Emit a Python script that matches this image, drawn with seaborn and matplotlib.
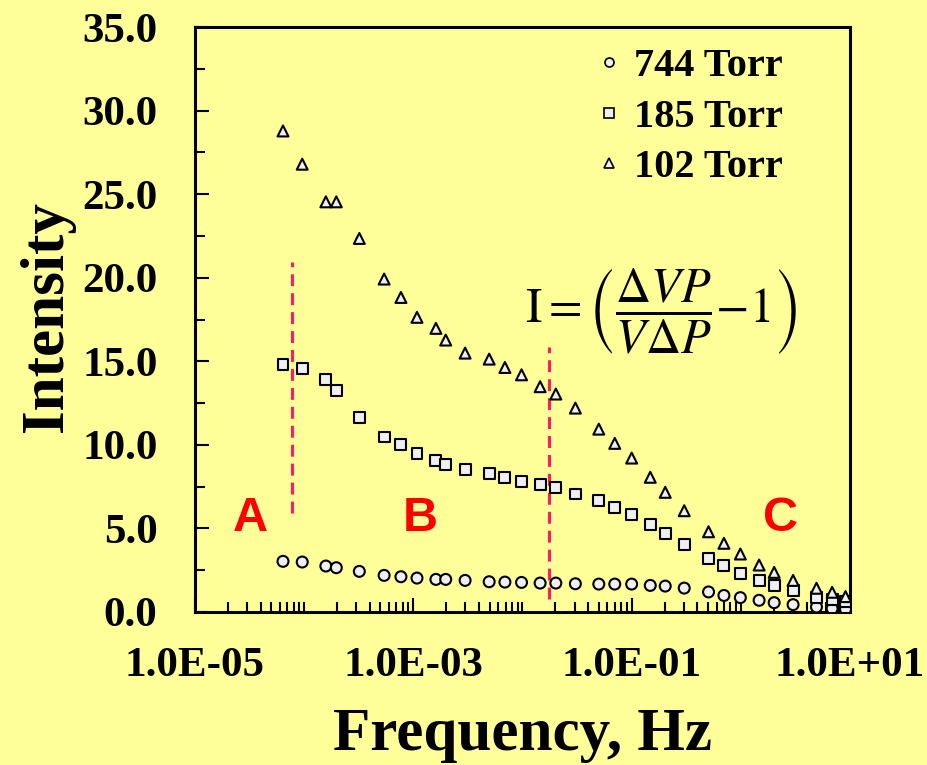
import numpy as np
import pandas as pd
import matplotlib
matplotlib.use("Agg")
import matplotlib.pyplot as plt
from matplotlib.ticker import FixedLocator, LogLocator, MultipleLocator, FuncFormatter, NullFormatter
from matplotlib.lines import Line2D
import seaborn as sns

# Sweep frequencies (Hz)
freq = [6.4e-5, 9.6e-5, 1.58e-4, 1.97e-4, 3.2e-4, 5.4e-4, 7.7e-4, 1.08e-3,
        1.61e-3, 1.98e-3, 2.98e-3, 4.95e-3, 6.9e-3, 9.8e-3, 1.45e-2, 2.02e-2,
        3.05e-2, 5.0e-2, 7.0e-2, 0.10, 0.148, 0.203, 0.303, 0.506,
        0.70, 0.99, 1.47, 2.02, 3.01, 4.93, 6.86, 9.1]

# Intensity at each pressure
i_744 = [3.03, 2.99, 2.75, 2.65, 2.43, 2.19, 2.11, 2.03, 1.95, 1.95, 1.89,
         1.81, 1.79, 1.77, 1.73, 1.73, 1.69, 1.67, 1.67, 1.67, 1.59, 1.55,
         1.43, 1.20, 0.99, 0.86, 0.70, 0.56, 0.44, 0.30, 0.20, 0.16]
i_185 = [14.79, 14.55, 13.89, 13.24, 11.64, 10.47, 10.03, 9.49, 9.05, 8.85,
         8.55, 8.29, 8.07, 7.78, 7.62, 7.44, 7.06, 6.66, 6.28, 5.84, 5.22,
         4.71, 4.05, 3.21, 2.77, 2.33, 1.89, 1.61, 1.28, 0.86, 0.72, 0.62]
i_102 = [28.78, 26.79, 24.54, 24.54, 22.35, 19.92, 18.82, 17.63, 16.97, 16.27,
         15.49, 15.13, 14.63, 14.19, 13.48, 13.04, 12.20, 10.94, 10.09, 9.21,
         8.06, 7.16, 6.06, 4.80, 4.11, 3.47, 2.81, 2.37, 1.89, 1.42, 1.18, 0.92]

series_names = ["744 Torr", "185 Torr", "102 Torr"]
series_markers = ["o", "s", "^"]

# Region boundaries (frequency, lower intensity, upper intensity)
bound_freq = [7.8e-5, 1.76e-2]
bound_low = [5.9, 0.76]
bound_high = [20.95, 15.87]

region_labels = ["A", "B", "C"]
region_freq = [3.19e-5, 1.15e-3, 2.32]
region_y = 4.84

x_major = [1e-5, 1e-3, 1e-1, 1e1]

df = pd.concat([
    pd.DataFrame({"Frequency": freq, "Intensity": vals, "Pressure": name})
    for name, vals in zip(series_names, [i_744, i_185, i_102])
], ignore_index=True)

sns.set_theme(style="white")
plt.rcParams["font.family"] = ["Liberation Serif", "DejaVu Serif"]
plt.rcParams["mathtext.fontset"] = "stix"
for key in ["text.color", "axes.labelcolor", "xtick.color", "ytick.color",
            "xtick.labelcolor", "ytick.labelcolor"]:
    plt.rcParams[key] = "black"

BG = "#FFFF99"
fig = plt.figure(figsize=(9.28, 7.65), dpi=100, facecolor=BG)
ax = fig.add_axes([195 / 928, 1 - 612 / 765, 655 / 928, 585 / 765])
ax.set_facecolor(BG)

sns.scatterplot(data=df, x="Frequency", y="Intensity", style="Pressure",
                markers=dict(zip(series_names, series_markers)),
                color="#efefef", edgecolor="black", linewidth=1.5, s=62,
                legend=False, ax=ax, zorder=3)

ax.set_xscale("log")
ax.set_xlim(1e-5, 1e1)
ax.set_ylim(0, 35)

# Boundary lines between regions
for xf, lo, hi in zip(bound_freq, bound_low, bound_high):
    ax.plot([xf, xf], [lo, hi], color="#ff1a66", lw=2.2,
            linestyle=(0, (3.9, 2.3)), zorder=2)

for lab, xf in zip(region_labels, region_freq):
    ax.text(xf, region_y, lab, color="#ff0000", fontsize=35, fontweight="bold",
            family=["Liberation Sans", "DejaVu Sans"], ha="center", va="baseline")

ax.text(0.185, 18.0,
        r"$\mathrm{I}{=}\left(\dfrac{\Delta VP}{V\Delta P}{-}1\right)$",
        fontsize=35, ha="center", va="center", color="black")

# Axes styling
for sp in ax.spines.values():
    sp.set_color("black")
    sp.set_linewidth(2.2)

ax.xaxis.set_major_locator(FixedLocator(x_major))
ax.xaxis.set_minor_locator(LogLocator(base=10, subs=np.arange(1, 10), numticks=100))
ax.xaxis.set_major_formatter(FuncFormatter(lambda v, p: "{:.1E}".format(v)))
ax.xaxis.set_minor_formatter(NullFormatter())
ax.yaxis.set_major_locator(MultipleLocator(5))
ax.yaxis.set_minor_locator(MultipleLocator(2.5))
ax.yaxis.set_major_formatter(FuncFormatter(lambda v, p: f"{v:.1f}"))

ax.tick_params(which="both", direction="in", color="black", width=1.5,
               top=False, right=False, bottom=True, left=True)
ax.tick_params(which="major", length=10)
ax.tick_params(which="minor", length=7)
ax.tick_params(axis="y", which="major", pad=27, labelsize=31, labelcolor="black")
ax.tick_params(axis="x", which="major", pad=25, labelsize=31, labelcolor="black")
for t in ax.get_xticklabels() + ax.get_yticklabels():
    t.set_fontweight("bold")

ax.set_xlabel("Frequency, Hz", fontsize=44, fontweight="bold", color="black")
ax.set_ylabel("Intensity", fontsize=44, fontweight="bold", color="black")
ax.xaxis.set_label_coords(0.5, -0.162)
ax.yaxis.set_label_coords(-0.183, 0.505)

handles = [Line2D([], [], linestyle="none", marker=m, markersize=6.5,
                  markerfacecolor="#efefef", markeredgecolor="black",
                  markeredgewidth=1.2, label=n)
           for n, m in zip(series_names, series_markers)]
leg = ax.legend(handles=handles, loc="upper right", frameon=False,
                prop={"family": "Liberation Serif", "weight": "bold", "size": 29},
                handlelength=0.6, handletextpad=0.3, labelspacing=0.33,
                borderaxespad=0.3, bbox_to_anchor=(0.94, 1.012))
for txt in leg.get_texts():
    txt.set_color("black")

fig.savefig("out.png", dpi=100, facecolor=BG)
